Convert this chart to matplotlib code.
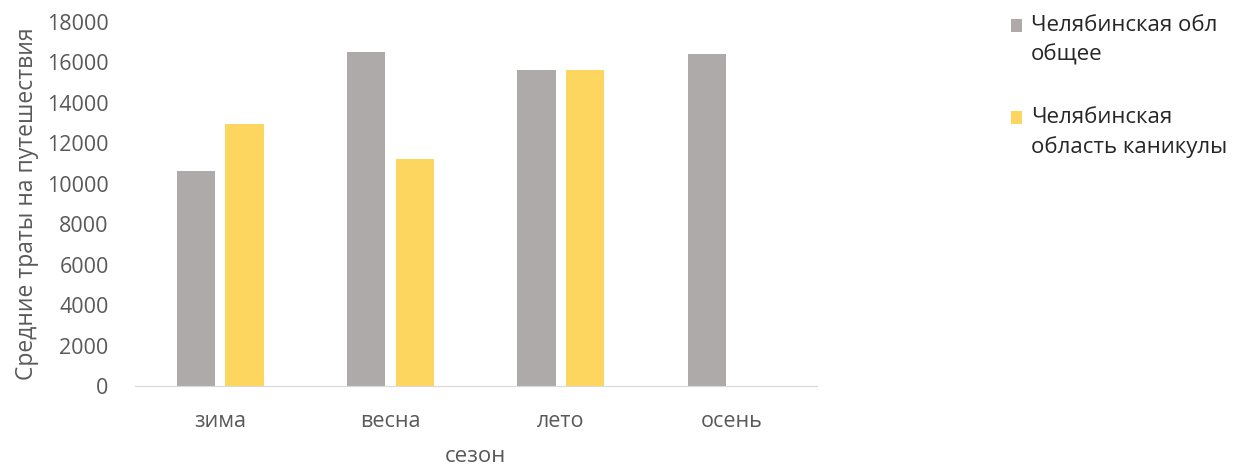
import numpy as np
import matplotlib.pyplot as plt
from matplotlib.patches import Rectangle
from matplotlib.container import BarContainer
from matplotlib.legend_handler import HandlerPatch

plt.rcParams["font.family"] = ["Open Sans", "DejaVu Sans"]

seasons = ["зима", "весна", "лето", "осень"]
total = [10650, 16500, 15630, 16420]
holidays = [12960, 11210, 15620, np.nan]
labels = ["Челябинская обл\nобщее", "Челябинская\nобласть каникулы"]

c_gray = "#ADAAA9"
c_yellow = "#FDD660"
c_text = "#595959"

fig = plt.figure(figsize=(12.39, 4.69), dpi=100)
ax = fig.add_axes([0.109, 0.177, 0.550, 0.776])

x = np.arange(len(seasons))
w = 0.225
ax.bar(x - 0.143, total, w, color=c_gray, label=labels[0])
ax.bar(x + 0.143, holidays, w, color=c_yellow, label=labels[1])

ax.set_xlim(-0.5, 3.5)
ax.set_ylim(0, 18000)
ax.set_yticks(np.arange(0, 18001, 2000))
ax.set_xticks(x)
ax.set_xticklabels(seasons)
ax.tick_params(length=0, labelsize=15.5, colors=c_text)
ax.tick_params(axis="x", pad=18)
ax.tick_params(axis="y", pad=19)
for s in ["top", "right", "left"]:
    ax.spines[s].set_visible(False)
ax.spines["bottom"].set_color("#D9D9D9")
ax.set_ylabel("Средние траты на путешествия", fontsize=16.5, color=c_text, labelpad=6)
ax.set_xlabel("сезон", fontsize=16, color=c_text, labelpad=10)


# square marker next to the first line of the label
def top_square(legend, orig_handle, xdescent, ydescent, width, height, fontsize):
    return Rectangle((-xdescent, -ydescent + fontsize * 0.68), width, height)


def from_first_bar(legend_handle, orig_handle):
    legend_handle.update_from(orig_handle.patches[0])


leg = fig.legend(loc="upper left", bbox_to_anchor=(0.8, 1.01), frameon=False,
                 fontsize=16, handlelength=0.5, handleheight=0.5, handletextpad=0.4,
                 labelspacing=1.9, labelcolor="#262626",
                 handler_map={BarContainer: HandlerPatch(patch_func=top_square,
                                                         update_func=from_first_bar)})
for t in leg.get_texts():
    t.set_linespacing(1.45)

plt.savefig("out.png", dpi=100)
